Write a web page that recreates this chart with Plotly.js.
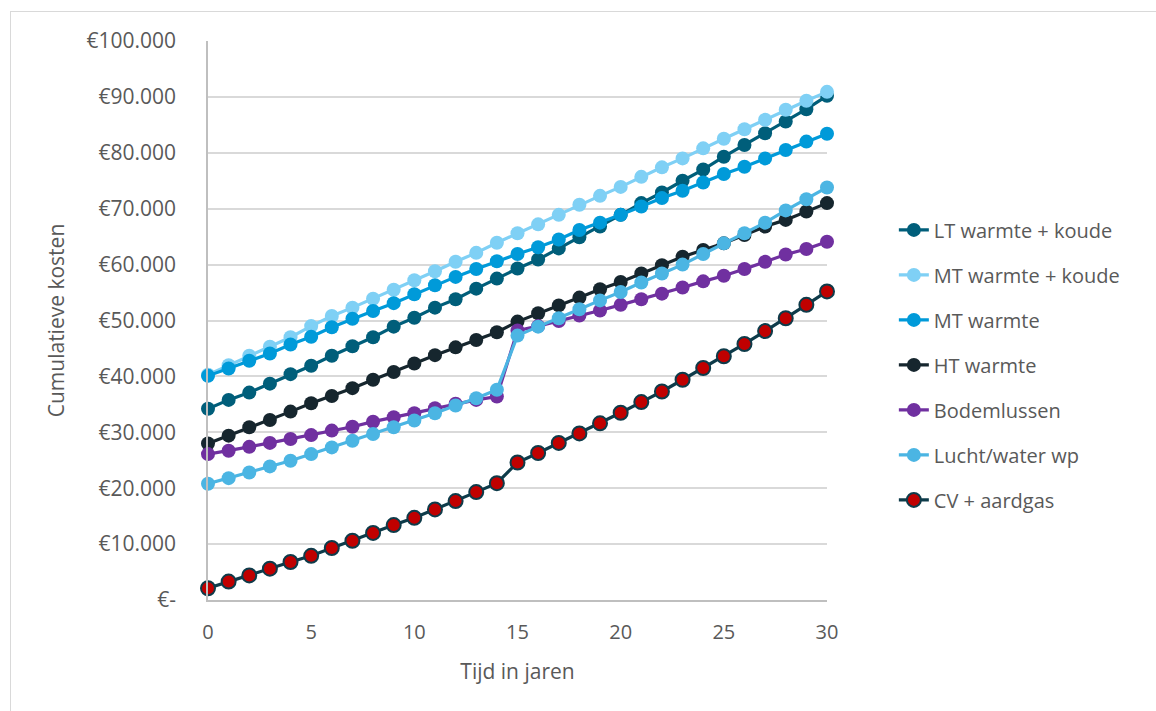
<!DOCTYPE html>
<html>
<head>
<meta charset="utf-8">
<script src="https://cdn.plot.ly/plotly-3.0.1.min.js"></script>
<style>
  html, body { margin: 0; padding: 0; background: #ffffff; overflow: hidden; }
  #wrap { position: relative; width: 1156px; height: 711px; }
  #chart { position: absolute; left: 0; top: 0; width: 1156px; height: 711px; }
  #frame { position: absolute; left: 10px; top: 11px; width: 1160px; height: 720px;
           border: 1px solid #d9d9d9; box-sizing: border-box; pointer-events: none; }
</style>
</head>
<body>
<div id="wrap">
  <div id="chart"></div>
  <div id="frame"></div>
</div>
<script>
// Years since start
const years = Array.from({length: 31}, (_, i) => i);

// Cumulative costs per system (euro)
const ltWarmteKoude = [34200, 35800, 37100, 38700, 40400, 41900, 43700, 45400, 47000, 48900,
  50500, 52300, 53800, 55700, 57500, 59300, 60900, 62900, 64900, 66800,
  68900, 71000, 72900, 75000, 77000, 79300, 81400, 83500, 85600, 87800, 90200];
const mtWarmteKoude = [40300, 42000, 43700, 45300, 47000, 49000, 50800, 52300, 53900, 55500,
  57200, 58800, 60500, 62100, 63900, 65600, 67200, 68900, 70700, 72300,
  73900, 75700, 77400, 79000, 80800, 82500, 84200, 85900, 87700, 89300, 90900];
const mtWarmte = [40100, 41400, 42800, 44100, 45700, 47100, 48800, 50300, 51700, 53100,
  54700, 56300, 57800, 59200, 60600, 61900, 63100, 64500, 66200, 67500,
  68900, 70400, 71900, 73200, 74700, 76200, 77500, 79000, 80500, 82000, 83400];
const htWarmte = [28000, 29400, 30900, 32200, 33700, 35200, 36500, 37900, 39400, 40800,
  42300, 43800, 45200, 46500, 47900, 49800, 51300, 52700, 54100, 55600,
  56900, 58400, 59900, 61400, 62600, 63800, 65300, 66800, 68000, 69500, 71000];
const bodemlussen = [26100, 26700, 27400, 28100, 28800, 29500, 30300, 31000, 31900, 32700,
  33400, 34300, 35100, 35800, 36400, 48200, 49000, 49900, 50900, 51800,
  52800, 53800, 54800, 55900, 57000, 58000, 59200, 60500, 61800, 62800, 64100];
const luchtWater = [20800, 21800, 22800, 23900, 24900, 26100, 27300, 28500, 29700, 30900,
  32100, 33400, 34800, 36100, 37600, 47300, 48900, 50400, 52000, 53600,
  55100, 56800, 58400, 60000, 61900, 63800, 65600, 67500, 69700, 71700, 73800];
const cvAardgas = [2100, 3300, 4400, 5600, 6800, 7900, 9300, 10600, 12000, 13400,
  14700, 16200, 17700, 19300, 20900, 24600, 26300, 28100, 29800, 31600,
  33500, 35400, 37300, 39400, 41500, 43600, 45800, 48100, 50400, 52800, 55200];

const seriesNames = ['LT warmte + koude', 'MT warmte + koude', 'MT warmte', 'HT warmte',
  'Bodemlussen', 'Lucht/water wp', 'CV + aardgas'];

// Axis ticks
const xTicks = [0, 5, 10, 15, 20, 25, 30];
const yTicks = [0, 10000, 20000, 30000, 40000, 50000, 60000, 70000, 80000, 90000, 100000];
const yTickLabels = ['€-', '€10.000', '€20.000', '€30.000', '€40.000', '€50.000',
  '€60.000', '€70.000', '€80.000', '€90.000', '€100.000'];

const seriesValues = [ltWarmteKoude, mtWarmteKoude, mtWarmte, htWarmte, bodemlussen, luchtWater, cvAardgas];
const lineColors = ['#005e7a', '#7fd0f5', '#009ad9', '#16262e', '#7030a0', '#4bb5e3', '#0e3b4a'];
const markerFills = ['#005e7a', '#7fd0f5', '#009ad9', '#16262e', '#7030a0', '#4bb5e3', '#c00000'];
const markerEdges = [0, 0, 0, 0, 0, 0, 2];

const traces = seriesValues.map((vals, i) => ({
  type: 'scatter',
  mode: 'lines+markers',
  name: seriesNames[i],
  legendgroup: 'g' + i,
  x: years,
  y: vals,
  cliponaxis: false,
  line: { color: lineColors[i], width: 3.2 },
  marker: {
    size: 14,
    color: markerFills[i],
    line: { color: lineColors[i], width: markerEdges[i] }
  },
  hoverinfo: 'x+y+name'
}));

const textColor = '#595959';

const layout = {
  width: 1156,
  height: 711,
  autosize: false,
  paper_bgcolor: '#ffffff',
  plot_bgcolor: '#ffffff',
  margin: { l: 208, r: 329, t: 41, b: 111, pad: 0 },
  font: { family: 'Open Sans, Noto Sans, sans-serif', color: textColor, size: 18 },
  showlegend: true,
  legend: {
    x: 1.108, xanchor: 'left',
    y: 0.697, yanchor: 'top',
    traceorder: 'grouped',
    tracegroupgap: 16,
    font: { size: 20, color: textColor },
    itemwidth: 30,
    bgcolor: 'rgba(0,0,0,0)'
  },
  xaxis: {
    range: [0, 30],
    tickmode: 'array',
    tickvals: xTicks,
    ticks: '',
    showgrid: false,
    zeroline: false,
    showline: true,
    linecolor: '#bfbfbf',
    linewidth: 1.5,
    ticklabelstandoff: 13,
    tickfont: { size: 20, color: textColor },
    title: { text: 'Tijd in jaren', font: { size: 21, color: textColor }, standoff: 21 },
    fixedrange: true
  },
  yaxis: {
    range: [0, 100000],
    tickmode: 'array',
    tickvals: yTicks,
    ticktext: yTickLabels,
    ticks: '',
    showgrid: true,
    gridcolor: '#d9d9d9',
    gridwidth: 1.5,
    zeroline: false,
    showline: true,
    linecolor: '#bfbfbf',
    linewidth: 1.5,
    ticklabelstandoff: 26,
    tickfont: { size: 21, color: textColor },
    title: { text: 'Cumulatieve kosten',
             font: { size: 21, color: textColor },
             standoff: 16 },
    fixedrange: true
  },
  hovermode: 'closest'
};

Plotly.newPlot('chart', traces, layout, { displayModeBar: false, staticPlot: false, responsive: false });
</script>
</body>
</html>
